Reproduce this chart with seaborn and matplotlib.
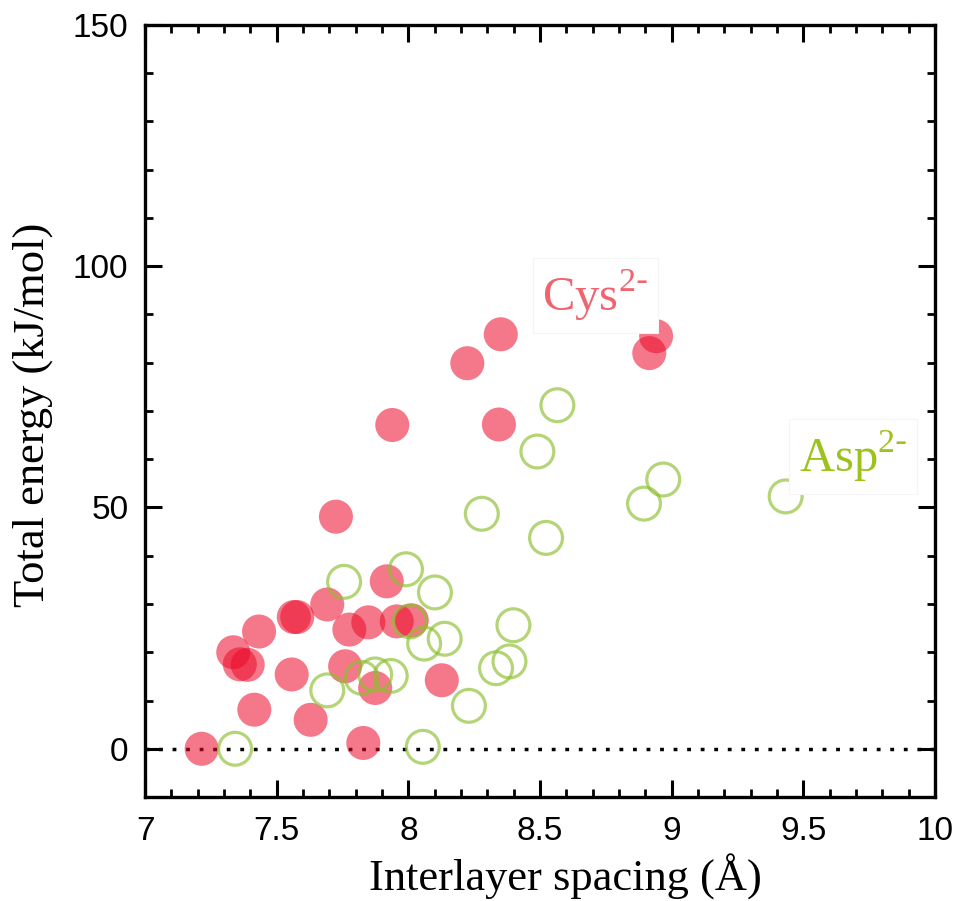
import matplotlib
matplotlib.use("Agg")
import matplotlib.pyplot as plt
from matplotlib.ticker import MultipleLocator
import seaborn as sns
import pandas as pd

# ---- data ----
cys_x = [7.215, 7.335, 7.36, 7.39, 7.415, 7.433, 7.557, 7.565, 7.578, 7.629,
         7.692, 7.725, 7.760, 7.776, 7.829, 7.848, 7.874, 7.918, 7.939, 7.956,
         8.013, 8.127, 8.224, 8.344, 8.351, 8.915, 8.941]
cys_y = [0.0, 20.0, 17.5, 17.4, 8.1, 24.3, 15.4, 27.3, 27.3, 6.0,
         29.9, 48.1, 17.1, 24.7, 1.2, 26.2, 12.6, 34.7, 67.1, 26.4,
         26.6, 14.2, 79.9, 67.2, 85.9, 82.0, 85.5]

asp_x = [7.342, 7.692, 7.756, 7.823, 7.874, 7.933, 7.991, 8.006, 8.060, 8.055,
         8.101, 8.138, 8.230, 8.279, 8.333, 8.384, 8.399, 8.490, 8.523, 8.566,
         8.895, 8.968, 9.433]
asp_y = [0.0, 12.1, 34.6, 14.7, 15.4, 15.1, 37.2, 26.4, 21.8, 0.4,
         32.4, 22.8, 8.9, 48.7, 16.7, 18.1, 25.6, 61.6, 43.7, 71.2,
         50.8, 55.8, 52.3]

x_ticks = [7, 7.5, 8, 8.5, 9, 9.5, 10]
x_tick_labels = ["7", "7.5", "8", "8.5", "9", "9.5", "10"]
y_ticks = [0, 50, 100, 150]
y_tick_labels = ["0", "50", "100", "150"]

cys_df = pd.DataFrame({"x": cys_x, "y": cys_y})
asp_df = pd.DataFrame({"x": asp_x, "y": asp_y})

sns.set_style("white")
plt.rcParams["font.family"] = ["Liberation Sans", "DejaVu Sans"]
plt.rcParams["text.color"] = "black"
plt.rcParams["axes.labelcolor"] = "black"
plt.rcParams["xtick.color"] = "black"
plt.rcParams["ytick.color"] = "black"

fig = plt.figure(figsize=(9.63, 9.01), dpi=100)
ax = fig.add_axes([0.1506, 0.1154, 0.8203, 0.8569])

RED = (0.92, 0.04, 0.16)
GREEN = (0.55, 0.75, 0.18)

sns.scatterplot(data=cys_df, x="x", y="y", ax=ax, s=600, color=RED,
                alpha=0.55, edgecolor="none", linewidth=0, zorder=3)
sns.scatterplot(data=asp_df, x="x", y="y", ax=ax, s=560, facecolor="none",
                edgecolor=GREEN, linewidth=2.3, alpha=0.65, zorder=4)

ax.axhline(0, color="black", lw=2.5, linestyle=(0, (1.1, 2.8)), zorder=2)

ax.set_xlim(7, 10)
ax.set_ylim(-10, 150)
ax.set_xticks(x_ticks)
ax.set_xticklabels(x_tick_labels)
ax.set_yticks(y_ticks)
ax.set_yticklabels(y_tick_labels)
ax.xaxis.set_minor_locator(MultipleLocator(0.1))
ax.yaxis.set_minor_locator(MultipleLocator(10))

ax.tick_params(which="both", direction="in", top=True, right=True,
               bottom=True, left=True, color="black", labelcolor="black")
ax.tick_params(which="major", length=12, width=2.2, labelsize=24)
ax.tick_params(axis="x", which="major", pad=14)
ax.tick_params(axis="y", which="major", pad=12)
ax.tick_params(which="minor", length=6, width=2.0)
for t in ax.get_xticklabels() + ax.get_yticklabels():
    t.set_fontfamily("Liberation Sans")

for sp in ax.spines.values():
    sp.set_visible(True)
    sp.set_linewidth(2.4)
    sp.set_color("black")

ax.set_xlabel("Interlayer spacing (Å)", fontsize=32, family="Liberation Serif",
              color="black")
ax.set_ylabel("Total energy (kJ/mol)", fontsize=32, family="Liberation Serif",
              color="black")
ax.xaxis.set_label_coords(0.532, -0.074)
ax.yaxis.set_label_coords(-0.117, 0.495)

ax.text(8.71, 94.0, r"Cys$^{\mathregular{2\text{-}}}$", color="#f06470",
        fontsize=35, family="Liberation Serif", ha="center", va="center",
        bbox=dict(boxstyle="square,pad=0.2", facecolor="white",
                  edgecolor="#f5f5f5", lw=0.8), zorder=5)
ax.text(9.69, 60.6, r"Asp$^{\mathregular{2\text{-}}}$", color="#9cc21c",
        fontsize=35, family="Liberation Serif", ha="center", va="center",
        bbox=dict(boxstyle="square,pad=0.2", facecolor="white",
                  edgecolor="#f5f5f5", lw=0.8), zorder=5)

fig.savefig("out.png", dpi=100)
